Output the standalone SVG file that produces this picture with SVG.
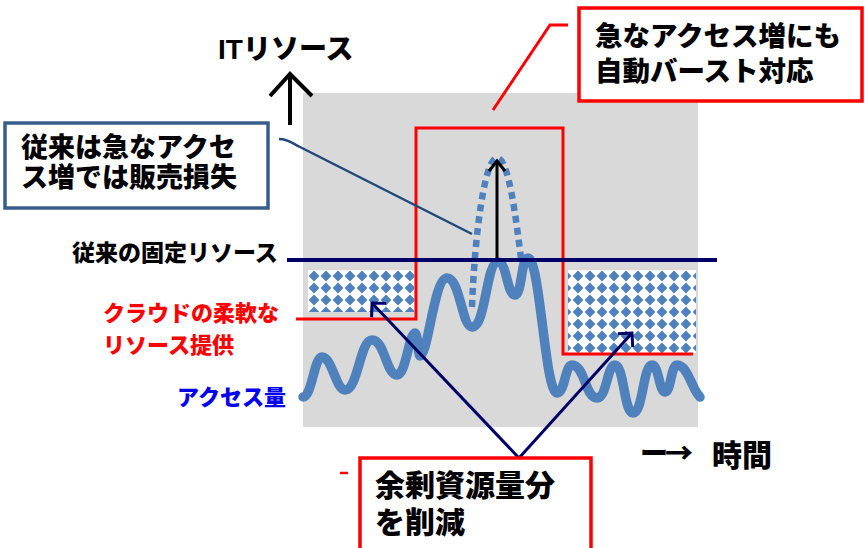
<svg xmlns="http://www.w3.org/2000/svg" width="865" height="548" viewBox="0 0 865 548">
<style>
.t{font-family:"Liberation Sans","Noto Sans CJK JP",sans-serif;font-weight:900}
.j{font-family:"Noto Sans CJK JP","Noto Sans",sans-serif;font-weight:900}
.k{fill:#000}
.r{fill:#ff0000}
.b{fill:#0000ee}
.box{fill:#fff;stroke-width:3.5}
</style>
<defs>
<pattern id="dia" width="12" height="12" patternUnits="userSpaceOnUse" x="308" y="270">
<rect width="12" height="12" fill="#fff"/>
<polygon points="6,0.6 11.4,6 6,11.4 0.6,6" fill="#4f81bd"/>
</pattern>
<marker id="ahk" markerUnits="userSpaceOnUse" markerWidth="30" markerHeight="30" viewBox="-15 -15 30 30" refX="0" refY="0" orient="auto">
<path d="M-10,-8 L0,0 L-10,8" fill="none" stroke="#000" stroke-width="3"/>
</marker>
<marker id="ahn" markerUnits="userSpaceOnUse" markerWidth="30" markerHeight="30" viewBox="-15 -15 30 30" refX="0" refY="0" orient="auto">
<path d="M-10,-10 L0,0 L-10,10" fill="none" stroke="#000066" stroke-width="3"/>
</marker>
</defs>

<g id="chart">
<rect x="303" y="93" width="395" height="334" fill="#d9d9d9"/>
<rect id="surplus-left" x="308" y="270" width="106" height="42" fill="url(#dia)"/>
<rect id="surplus-right" x="568" y="270" width="128" height="83" fill="url(#dia)"/>
<path id="cloud-resource" d="M296,319 L416,319 L416,128 L563,128 L563,354 L693,354" fill="none" stroke="#ff0000" stroke-width="3"/>
<path id="access-wave" d="M303,397 C312,397 314,357 322,357 C332,357 336,390 345,390 C358,390 360,340 372,340 C385,340 386,375 397,375 C406,375 409,333 415,333 C418,333 418,356 420,356 C428,356 434,278 447,278 C460,278 462,327 472,327 C486,327 486,262 498,262 C507,262 507,295 515,295 C522,295 521,258 528,258 C540,258 545,393 557,393 C565,393 565,365 572,365 C585,365 585,398 597,398 C607,398 607,365 615,365 C624,365 624,413 633,413 C643,413 643,365 652,365 C659,365 659,392 665,392 C671,392 671,365 677,365 C688,365 692,390 700,397" fill="none" stroke="#4f81bd" stroke-width="9.5" stroke-linecap="round" stroke-linejoin="round"/>
<path id="demand-spike" d="M472,307 C475,230 485,158 497,158 C509,158 516,220 521,258" fill="none" stroke="#4f81bd" stroke-width="6.5" stroke-dasharray="7 5"/>
<line id="fixed-resource" x1="287" y1="260" x2="717" y2="260" stroke="#000066" stroke-width="4"/>
</g>

<g id="connectors" fill="none">
<line x1="497" y1="258" x2="497" y2="161" stroke="#000" stroke-width="3" marker-end="url(#ahk)"/>
<path d="M290,125 L290,74 M270,96 L290,74 L312,96" stroke="#000" stroke-width="4"/>
<path d="M279,139 C288,139 292,143 300,147 L472,234" stroke="#1f497d" stroke-width="2.5"/>
<path d="M493,110 L550,25 L568,25" stroke="#ff0000" stroke-width="3"/>
<line x1="519" y1="458" x2="372" y2="303" stroke="#000066" stroke-width="3" marker-end="url(#ahn)"/>
<line x1="519" y1="458" x2="632" y2="333" stroke="#000066" stroke-width="3" marker-end="url(#ahn)"/>
<line x1="340" y1="473" x2="348" y2="473" stroke="#ff0000" stroke-width="2.5"/>
</g>

<g id="axis-y">
<text class="t k" x="218" y="59" font-size="28">ITリソース</text>
</g>
<g id="axis-x">
<text class="j k" x="640" y="464" font-size="28" letter-spacing="-3">ー→</text>
<text class="t k" x="712" y="466" font-size="30">時間</text>
</g>

<g id="note-loss">
<rect class="box" x="5" y="123" width="263" height="85" stroke="#385d8a" stroke-width="3"/>
<text class="t k" font-size="27"><tspan x="21" y="157">従来は急なアクセ</tspan><tspan x="21" y="187">ス増では販売損失</tspan></text>
</g>

<g id="note-burst">
<rect class="box" x="579" y="8" width="283" height="93" stroke="#ff0000"/>
<text class="t k" font-size="27.5"><tspan x="595" y="46">急なアクセス増にも</tspan><tspan x="595" y="81">自動バースト対応</tspan></text>
</g>

<g id="note-reduce">
<rect class="box" x="360" y="458" width="231" height="100" stroke="#ff0000"/>
<text class="t k" font-size="30"><tspan x="375" y="496">余剰資源量分</tspan><tspan x="375" y="533">を削減</tspan></text>
</g>

<g id="label-fixed">
<text class="t k" x="72" y="261" font-size="23">従来の固定リソース</text>
</g>
<g id="label-cloud">
<text class="t r" font-size="22"><tspan x="103" y="321">クラウドの柔軟な</tspan><tspan x="103" y="353">リソース提供</tspan></text>
</g>
<g id="label-access">
<text class="t b" x="177" y="405" font-size="22">アクセス量</text>
</g>
</svg>
